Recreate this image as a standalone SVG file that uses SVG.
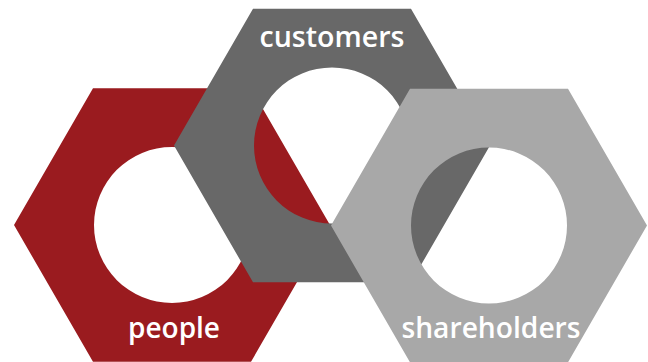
<svg xmlns="http://www.w3.org/2000/svg" width="648" height="362" viewBox="0 0 648 362">
  <style>
    .nut { fill-rule: evenodd; }
    .red { fill: #9a1b1f; }
    .dark { fill: #686868; }
    .light { fill: #a8a8a8; }
    .label { fill: #ffffff; font-family: "Open Sans", "Liberation Sans", sans-serif; font-weight: 600; font-size: 28px; text-anchor: middle; }
  </style>
  <rect width="648" height="362" fill="#ffffff"/>
  <g id="people">
    <path class="nut red" d="M14,225 L93,88.2 L251,88.2 L330,225 L251,361.8 L93,361.8 Z M94,225 A78,78 0 1,0 250,225 A78,78 0 1,0 94,225 Z"/>
    <text class="label" x="174" y="338" textLength="92" lengthAdjust="spacingAndGlyphs">people</text>
  </g>
  <g id="customers">
    <path class="nut dark" d="M174,145.5 L253,8.7 L411,8.7 L490,145.5 L411,282.3 L253,282.3 Z M254,145.5 A78,78 0 1,0 410,145.5 A78,78 0 1,0 254,145.5 Z"/>
    <text class="label" x="332" y="47" textLength="145" lengthAdjust="spacingAndGlyphs">customers</text>
  </g>
  <g id="shareholders">
    <path class="nut light" d="M331,225.5 L410,88.7 L568,88.7 L647,225.5 L568,362.3 L410,362.3 Z M411,225.5 A78,78 0 1,0 567,225.5 A78,78 0 1,0 411,225.5 Z"/>
    <text class="label" x="491" y="338" textLength="179" lengthAdjust="spacingAndGlyphs">shareholders</text>
  </g>
  <g id="connectors"/>
</svg>
